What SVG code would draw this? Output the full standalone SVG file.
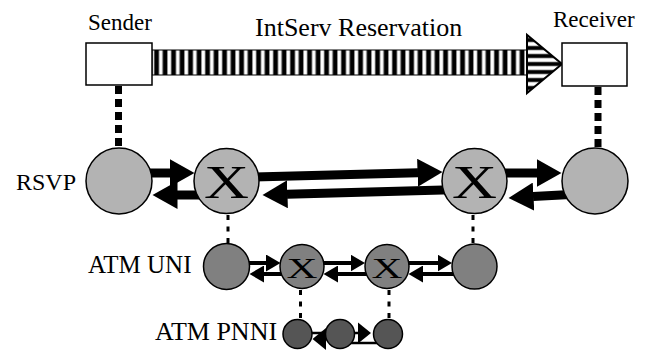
<svg xmlns="http://www.w3.org/2000/svg" width="645" height="350" viewBox="0 0 645 350">
<style>
  text { font-family: "Liberation Serif", "Times New Roman", serif; fill: #000; }
  .lbl { font-size: 24px; }
  .box { fill: #fff; stroke: #000; stroke-width: 1.5; }
  .rsvp { fill: #b3b3b3; stroke: #000; stroke-width: 1.5; }
  .uni { fill: #808080; stroke: #000; stroke-width: 1.5; }
  .pnni { fill: #555555; stroke: #000; stroke-width: 1.5; }
  .thick { stroke: #000; stroke-width: 9; fill: none; marker-end: url(#hBig); }
  .mid { stroke: #000; stroke-width: 4; fill: none; marker-end: url(#hMid); }
  .small { stroke: #000; stroke-width: 2.5; fill: none; }
  .dashBig { stroke: #000; stroke-width: 7; stroke-dasharray: 8 5; fill: none; }
  .dot { stroke: #000; stroke-width: 3; stroke-dasharray: 5 6.5; fill: none; }
  .xl { font-size: 47px; }
  .xs { font-size: 30px; }
</style>
<defs>
  <marker id="hBig" markerUnits="userSpaceOnUse" markerWidth="26" markerHeight="28" viewBox="0 0 26 28" refX="0.5" refY="14" orient="auto">
    <path d="M0,0 L25,14 L0,28 Z" fill="#000"/>
  </marker>
  <marker id="hMid" markerUnits="userSpaceOnUse" markerWidth="15" markerHeight="17" viewBox="0 0 15 17" refX="0.5" refY="8.5" orient="auto">
    <path d="M0,0 L14.5,8.5 L0,17 Z" fill="#000"/>
  </marker>
  <marker id="hSm" markerUnits="userSpaceOnUse" markerWidth="14" markerHeight="22" viewBox="0 0 14 22" refX="0.5" refY="11" orient="auto">
    <path d="M0,0 L13.5,11 L0,22 Z" fill="#000"/>
  </marker>
  <linearGradient id="gv" x1="0" y1="0" x2="1" y2="0">
    <stop offset="0" stop-color="#fff"/>
    <stop offset="0.15" stop-color="#fff"/>
    <stop offset="0.35" stop-color="#000"/>
    <stop offset="0.72" stop-color="#000"/>
    <stop offset="0.9" stop-color="#fff"/>
    <stop offset="1" stop-color="#fff"/>
  </linearGradient>
  <linearGradient id="gh" x1="0" y1="0" x2="0" y2="1">
    <stop offset="0" stop-color="#fff"/>
    <stop offset="0.15" stop-color="#fff"/>
    <stop offset="0.35" stop-color="#000"/>
    <stop offset="0.65" stop-color="#000"/>
    <stop offset="0.85" stop-color="#fff"/>
    <stop offset="1" stop-color="#fff"/>
  </linearGradient>
  <pattern id="stripesV" patternUnits="userSpaceOnUse" x="152" y="0" width="8.5" height="100">
    <rect x="0" y="0" width="8.5" height="100" fill="url(#gv)"/>
  </pattern>
  <pattern id="stripesH" patternUnits="userSpaceOnUse" x="0" y="36" width="100" height="8">
    <rect x="0" y="0" width="100" height="8" fill="url(#gh)"/>
  </pattern>
</defs>

<text class="lbl" x="88" y="30" style="font-size:23px">Sender</text>
<text class="lbl" x="255" y="36" style="font-size:26px">IntServ Reservation</text>
<text class="lbl" x="553" y="27" style="font-size:23px">Receiver</text>
<text class="lbl" x="76" y="190" text-anchor="end">RSVP</text>
<text class="lbl" x="88" y="273" style="font-size:25px">ATM UNI</text>
<text class="lbl" x="155" y="340" style="font-size:26px">ATM PNNI</text>

<g id="connectors">
  <!-- IntServ reservation striped arrow -->
  <rect x="152" y="50" width="375" height="25" fill="url(#stripesV)" stroke="#000" stroke-width="1"/>
  <polygon points="527,35 527,93 562,64" fill="url(#stripesH)" stroke="#000" stroke-width="2" stroke-linejoin="miter"/>
  <!-- thick dashed verticals -->
  <line class="dashBig" x1="118.5" y1="86" x2="118.5" y2="148"/>
  <line class="dashBig" x1="598" y1="87" x2="598" y2="148"/>
  <!-- thin dotted verticals -->
  <line class="dot" x1="228" y1="215" x2="228" y2="243"/>
  <line class="dot" x1="473" y1="215" x2="473" y2="244"/>
  <line class="dot" x1="300.5" y1="290" x2="300.5" y2="319"/>
  <line class="dot" x1="389" y1="290" x2="389" y2="319"/>
  <!-- RSVP arrows -->
  <line class="thick" x1="140" y1="173" x2="170" y2="173"/>
  <line class="thick" x1="210" y1="195" x2="177" y2="195"/>
  <line class="thick" x1="250" y1="177.2" x2="418" y2="172.7"/>
  <line class="thick" x1="452" y1="189.7" x2="287" y2="194.3"/>
  <line class="thick" x1="495" y1="173" x2="537" y2="173"/>
  <line class="thick" x1="575" y1="194.3" x2="533" y2="196.6"/>
  <!-- ATM UNI arrows -->
  <line class="mid" x1="240" y1="263" x2="266.5" y2="263"/>
  <line class="mid" x1="300" y1="274" x2="263.5" y2="274"/>
  <line class="mid" x1="310" y1="263" x2="351" y2="263"/>
  <line class="mid" x1="380" y1="274" x2="337.5" y2="274"/>
  <line class="mid" x1="395" y1="263" x2="438" y2="263"/>
  <line class="mid" x1="470" y1="274" x2="422.5" y2="274"/>
  <!-- ATM PNNI arrows -->
  <line class="small" x1="300" y1="333" x2="332" y2="333"/>
  <line class="small" x1="340" y1="339" x2="325.5" y2="339" marker-end="url(#hSm)"/>
  <line class="small" x1="345" y1="333" x2="358" y2="333" marker-end="url(#hSm)"/>
  <line class="small" x1="350" y1="343" x2="380" y2="343"/>
</g>

<g id="sender"><rect class="box" x="86" y="43" width="66" height="42"/></g>
<g id="receiver"><rect class="box" x="562" y="43" width="65" height="43"/></g>

<g id="rsvp-sender"><circle class="rsvp" cx="119" cy="181" r="33"/></g>
<g id="rsvp-switch1"><circle class="rsvp" cx="226.5" cy="181" r="32.5"/><text class="xl" x="204" y="198" textLength="45" lengthAdjust="spacingAndGlyphs">X</text></g>
<g id="rsvp-switch2"><circle class="rsvp" cx="474.5" cy="181" r="32.5"/><text class="xl" x="452" y="198" textLength="45" lengthAdjust="spacingAndGlyphs">X</text></g>
<g id="rsvp-receiver"><circle class="rsvp" cx="595" cy="181" r="33"/></g>

<g id="uni-sender"><circle class="uni" cx="226.5" cy="266.5" r="23"/></g>
<g id="uni-switch1"><circle class="uni" cx="302" cy="266.5" r="22"/><text class="xs" x="286.5" y="278" textLength="31" lengthAdjust="spacingAndGlyphs">X</text></g>
<g id="uni-switch2"><circle class="uni" cx="387" cy="266.5" r="22"/><text class="xs" x="371.5" y="278" textLength="31" lengthAdjust="spacingAndGlyphs">X</text></g>
<g id="uni-receiver"><circle class="uni" cx="474.5" cy="266.5" r="22.5"/></g>

<g id="pnni-1"><circle class="pnni" cx="297.5" cy="334" r="14.5"/></g>
<g id="pnni-2"><circle class="pnni" cx="340" cy="334" r="14.5"/></g>
<g id="pnni-3"><circle class="pnni" cx="388" cy="334" r="14.5"/></g>
</svg>
